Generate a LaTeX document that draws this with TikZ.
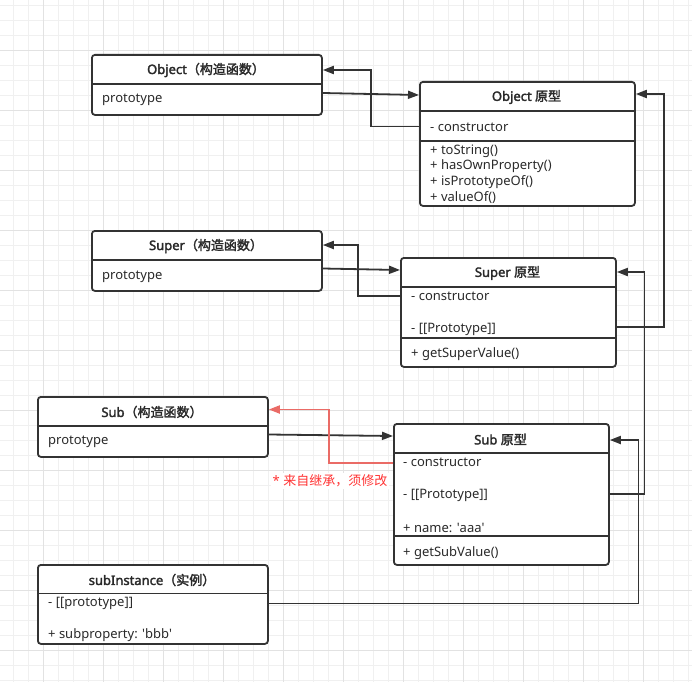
\documentclass[tikz,border=0pt]{standalone}
\usepackage{fontspec}
\setmainfont{Noto Sans}[AutoFakeBold=2.2]
\newfontfamily\cjk{Noto Sans CJK SC}[AutoFakeBold=2.2]
\usetikzlibrary{arrows.meta}
\definecolor{lc}{HTML}{333333}
\definecolor{tc}{HTML}{2A2A2A}
\definecolor{gridminor}{HTML}{F0F0F0}
\definecolor{gridmajor}{HTML}{E2E2E2}
\definecolor{redline}{HTML}{EA6B66}
\definecolor{redtext}{HTML}{FF3333}
\tikzset{
  umlbox/.style={draw=lc, line width=1.8pt, rounded corners=3pt, fill=white, anchor=north west, inner sep=0pt},
  divider/.style={draw=lc, line width=1.8pt},
  ttl/.style={inner sep=0pt, text=tc, font=\fontsize{13}{15}\selectfont\bfseries},
  rowtxt/.style={anchor=west, inner sep=0pt, text=tc, font=\fontsize{13}{15}\selectfont},
  conn/.style={draw=lc, line width=1.8pt, -{Triangle[length=11pt,width=8pt]}},
  redconn/.style={draw=redline, line width=1.8pt, -{Triangle[length=11pt,width=8pt]}},
  redlbl/.style={fill=white, inner sep=2pt, text=redtext, font=\fontsize{13}{15}\selectfont},
  gmin/.style={draw=gridminor, line width=0.9pt},
  gmaj/.style={draw=gridmajor, line width=0.9pt},
}
\begin{document}
\begin{tikzpicture}[x=1pt, y=-1pt]
\useasboundingbox (0,0) rectangle (692,682);
\fill[white] (0,0) rectangle (692,682);
% grid
\foreach \i in {0,...,45} {
  \draw[gmin] ({13.3+15*\i},0) -- ({13.3+15*\i},682);
  \draw[gmin] (0,{5+15*\i}) -- (692,{5+15*\i});
}
\foreach \i in {0,...,10} {
  \draw[gmaj] ({43.3+60*\i},0) -- ({43.3+60*\i},682);
  \draw[gmaj] (0,{50+60*\i}) -- (692,{50+60*\i});
}

% Object constructor
\node[umlbox, minimum width=230pt, minimum height=60pt] (oc) at (91,54) {};
\draw[divider] (oc.west |- 0,84) -- (oc.east |- 0,84);
\node[ttl] (oct) at (206,70) {Object\cjk{（构造函数）}};
\node[rowtxt] (ocp) at (102,100) {prototype};

% Object prototype
\node[umlbox, minimum width=215pt, minimum height=124pt] (op) at (419,81) {};
\draw[divider] (op.west |- 0,111) -- (op.east |- 0,111);
\draw[divider] (op.west |- 0,141) -- (op.east |- 0,141);
\node[ttl] (opt) at (526.5,97) {Object \cjk{原型}};
\node[rowtxt] (opc) at (430,127) {- constructor};
\node[rowtxt] (opm1) at (430,151) {+ toString()};
\node[rowtxt] (opm2) at (430,166.5) {+ hasOwnProperty()};
\node[rowtxt] (opm3) at (430,182) {+ isPrototypeOf()};
\node[rowtxt] (opm4) at (430,197.5) {+ valueOf()};

% Super constructor
\node[umlbox, minimum width=230pt, minimum height=60pt] (sc) at (91,230) {};
\draw[divider] (sc.west |- 0,260) -- (sc.east |- 0,260);
\node[ttl] (sct) at (206,246) {Super\cjk{（构造函数）}};
\node[rowtxt] (scp) at (102,276.5) {prototype};

% Super prototype
\node[umlbox, minimum width=215pt, minimum height=109pt] (sp) at (400,257) {};
\draw[divider] (sp.west |- 0,287) -- (sp.east |- 0,287);
\draw[divider] (sp.west |- 0,338) -- (sp.east |- 0,338);
\node[ttl] (spt) at (507.5,273) {Super \cjk{原型}};
\node[rowtxt] (spc) at (411,296.5) {- constructor};
\node[rowtxt] (spp) at (411,329) {- [[Prototype]]};
\node[rowtxt] (spm) at (411,354.5) {+ getSuperValue()};

% Sub constructor
\node[umlbox, minimum width=230pt, minimum height=60pt] (bc) at (37,396) {};
\draw[divider] (bc.west |- 0,426) -- (bc.east |- 0,426);
\node[ttl] (bct) at (152,412) {Sub\cjk{（构造函数）}};
\node[rowtxt] (bcp) at (48,442) {prototype};

% Sub prototype
\node[umlbox, minimum width=215pt, minimum height=141pt] (bp) at (393,423) {};
\draw[divider] (bp.west |- 0,453) -- (bp.east |- 0,453);
\draw[divider] (bp.west |- 0,536) -- (bp.east |- 0,536);
\node[ttl] (bpt) at (500.5,439.5) {Sub \cjk{原型}};
\node[rowtxt] (bpc) at (403,462.5) {- constructor};
\node[rowtxt] (bpp) at (403,495) {- [[Prototype]]};
\node[rowtxt] (bpn) at (403,527.5) {+ name: \textquotesingle aaa\textquotesingle};
\node[rowtxt] (bpm) at (403,553) {+ getSubValue()};

% subInstance
\node[umlbox, minimum width=230pt, minimum height=79pt] (si) at (37,564) {};
\draw[divider] (si.west |- 0,593.5) -- (si.east |- 0,593.5);
\node[ttl] (sit) at (152,580) {subInstance\cjk{（实例）}};
\node[rowtxt] (sip) at (48,603.5) {- [[prototype]]};
\node[rowtxt] (sis) at (48,635.5) {+ subproperty: \textquotesingle bbb\textquotesingle};

% connectors
\draw[conn] (oc.east |- 0,93) -- (op.west |- 0,95);
\draw[conn] (op.west |- 0,126.5) -- (371,126.5) -- (371,70) -- (oc.east |- 0,70);
\draw[conn] (sc.east |- 0,268.5) -- (sp.west |- 0,270);
\draw[conn] (sp.west |- 0,296) -- (358,296) -- (358,245) -- (sc.east |- 0,245);
\draw[conn] (sp.east |- 0,327) -- (664,327) -- (664,94) -- (op.east |- 0,94);
\draw[conn] (bp.east |- 0,494) -- (644.5,494) -- (644.5,272) -- (sp.east |- 0,272);
\draw[conn] (si.east |- 0,603.5) -- (638.5,603.5) -- (638.5,440) -- (bp.east |- 0,440);
\draw[conn] (bc.east |- 0,434.5) -- (bp.west |- 0,436);
\draw[redconn] (bp.west |- 0,463) -- (329,463) -- (329,409.5) -- (bc.east |- 0,409.5);
\node[redlbl] (lbl) at (330,481) {* \cjk{来自继承，须修改}};
\end{tikzpicture}
\end{document}
